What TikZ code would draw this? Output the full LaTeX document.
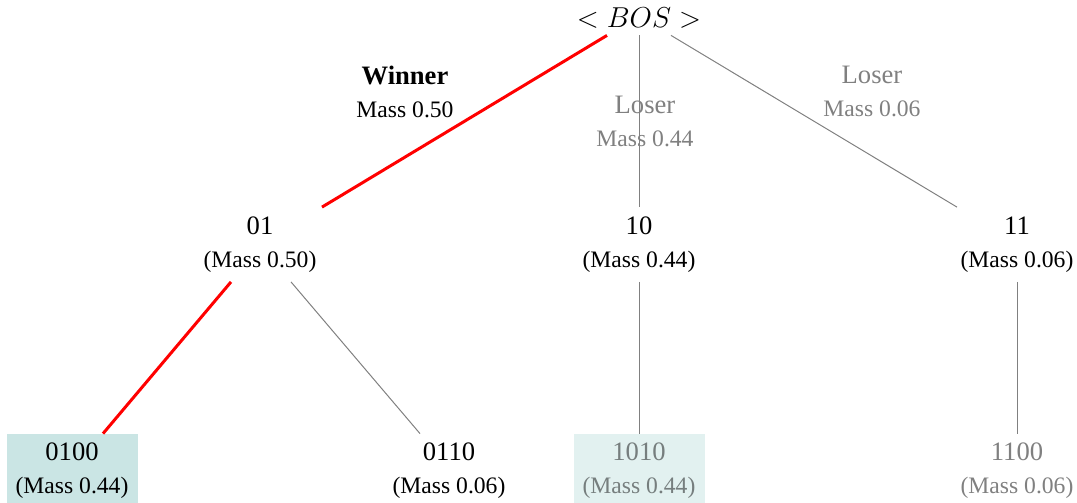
\documentclass[tikz,border=0pt]{standalone}
\usepackage{fontspec}
\setmainfont{Liberation Serif}
\definecolor{boxwin}{RGB}{202,229,228}
\definecolor{boxlose}{RGB}{226,241,240}
\definecolor{fadetext}{RGB}{118,126,126}
\newcommand{\bigline}[1]{{\fontsize{13.3}{16.5}\selectfont #1}}
\begin{document}
\begin{tikzpicture}[x=0.5pt,y=-0.5pt,
  txt/.style={font=\fontsize{11.8}{16.5}\selectfont, align=center, inner sep=0pt},
  lvl/.style={txt, minimum height=37pt},
  leaf/.style={txt, minimum height=37pt, minimum width=65.5pt},
  win/.style={draw=red, line width=1.5pt},
  plain/.style={draw=gray, line width=0.5pt},
  loser/.style={txt, text=gray}]
\useasboundingbox (0,0) rectangle (1077,503);
% root
\node[inner sep=0pt, minimum height=17pt, font=\fontsize{13.5}{16}\selectfont] (bos) at (639,18) {$<BOS>$};
% level 1
\node[lvl] (n01) at (260,244.5) {\bigline{01}\\(Mass 0.50)};
\node[lvl] (n10) at (639,244.5) {\bigline{10}\\(Mass 0.44)};
\node[lvl] (n11) at (1017,244.5) {\bigline{11}\\(Mass 0.06)};
% leaves
\node[leaf, fill=boxwin] (n0100) at (72,471) {\bigline{0100}\\(Mass 0.44)};
\node[leaf] (n0110) at (449,471) {\bigline{0110}\\(Mass 0.06)};
\node[leaf, fill=boxlose, text=fadetext] (n1010) at (639,471) {\bigline{1010}\\(Mass 0.44)};
\node[leaf, text=gray] (n1100) at (1017,471) {\bigline{1100}\\(Mass 0.06)};
% edge labels
\node[txt] (lw) at (405,91.5) {\bigline{\textbf{Winner}}\\Mass 0.50};
\node[loser] (l10) at (645,121.5) {\bigline{Loser}\\Mass 0.44};
\node[loser] (l11) at (872,91.5) {\bigline{Loser}\\Mass 0.06};
% edges
\draw[win] ([xshift=-16pt]bos.south) -- ([xshift=31pt]n01.north);
\draw[plain] (bos.south) -- (n10.north);
\draw[plain] ([xshift=16pt]bos.south) -- ([xshift=-30pt]n11.north);
\draw[win] ([xshift=-14.5pt]n01.south) -- ([xshift=15.5pt]n0100.north);
\draw[plain] ([xshift=15.5pt]n01.south) -- ([xshift=-14.5pt]n0110.north);
\draw[plain] (n10.south) -- (n1010.north);
\draw[plain] (n11.south) -- (n1100.north);
\end{tikzpicture}
\end{document}
